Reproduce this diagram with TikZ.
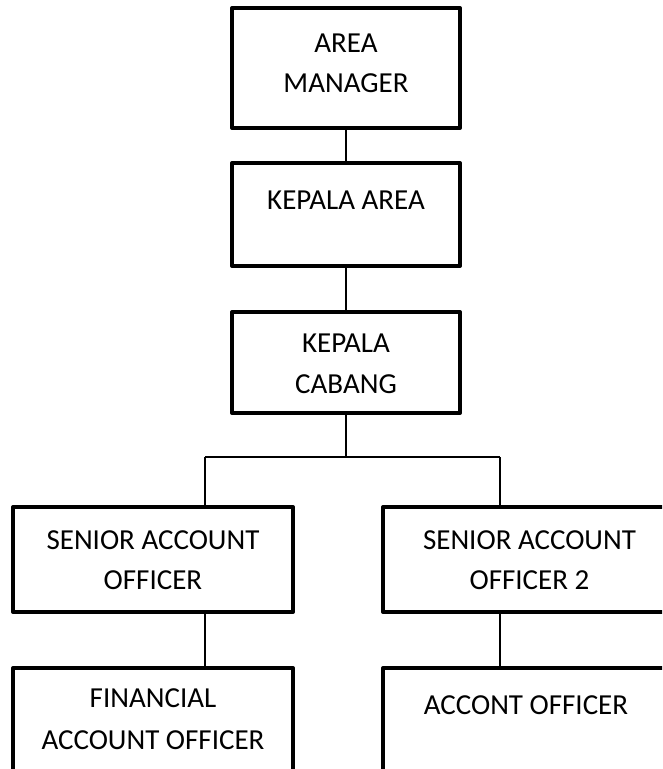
\documentclass[tikz,border=0pt]{standalone}
\usepackage{fontspec}
\setmainfont{Carlito}
\begin{document}
\begin{tikzpicture}[x=1pt,y=-1pt,
  box/.style={draw, line width=4pt, line join=round, inner sep=0pt},
  conn/.style={line width=2pt},
  lbl/.style={anchor=base, inner sep=0pt, font=\fontsize{29}{40}\selectfont}]
\useasboundingbox (0,0) rectangle (662,769);
\clip (0,0) rectangle (662,769);
% boxes
\node[box, minimum width=228pt, minimum height=120pt] (am) at (346,68) {};
\node[box, minimum width=228pt, minimum height=103pt] (ka) at (346,214.5) {};
\node[box, minimum width=228pt, minimum height=101pt] (kc) at (346,362.5) {};
\node[box, minimum width=280pt, minimum height=105pt] (sl) at (153,559.5) {};
\node[box, minimum width=293pt, minimum height=105pt] (sr) at (529.5,559.5) {};
\node[box, minimum width=280pt, minimum height=132pt] (fl) at (153,734) {};
\node[box, minimum width=293pt, minimum height=132pt] (fr) at (529.5,734) {};
% texts
\node[lbl] (t1a) at (346,52) {AREA};
\node[lbl] (t1b) at (346,92) {MANAGER};
\node[lbl] (t2) at (346,209) {KEPALA AREA};
\node[lbl] (t3a) at (346,352) {KEPALA};
\node[lbl] (t3b) at (346,393) {CABANG};
\node[lbl] (t4a) at (153,549) {SENIOR ACCOUNT};
\node[lbl] (t4b) at (153,589) {OFFICER};
\node[lbl] (t5a) at (529.5,549) {SENIOR ACCOUNT};
\node[lbl] (t5b) at (529.5,589) {OFFICER 2};
\node[lbl] (t6a) at (153,707) {FINANCIAL};
\node[lbl] (t6b) at (153,749) {ACCOUNT OFFICER};
\node[lbl] (t7) at (526,714) {ACCONT OFFICER};
% connectors
\coordinate (jl) at (205,457);
\coordinate (jr) at (500,457);
\draw[conn] (am.south) -- (ka.north);
\draw[conn] (ka.south) -- (kc.north);
\draw[conn] (kc.south) -- (kc.south |- jl);
\draw[conn] (jl) -- (jr);
\draw[conn] (jl) -- (jl |- sl.north);
\draw[conn] (jr) -- (jr |- sr.north);
\draw[conn] (jl |- sl.south) -- (jl |- fl.north);
\draw[conn] (jr |- sr.south) -- (jr |- fr.north);
\end{tikzpicture}
\end{document}
